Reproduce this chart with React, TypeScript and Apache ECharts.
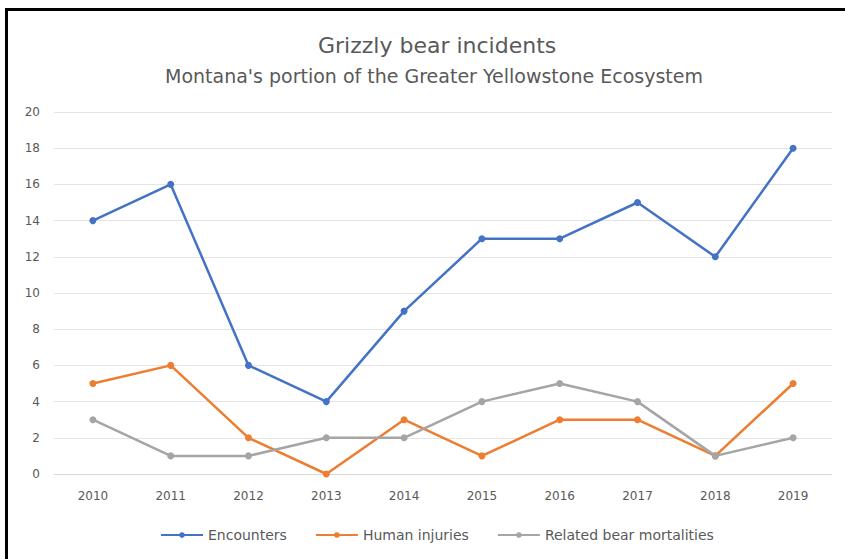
import React, { useEffect, useRef } from "react";
import * as echarts from "echarts";

const years = ["2010", "2011", "2012", "2013", "2014", "2015", "2016", "2017", "2018", "2019"];
const encounters = [14, 16, 6, 4, 9, 13, 13, 15, 12, 18];
const humanInjuries = [5, 6, 2, 0, 3, 1, 3, 3, 1, 5];
const bearMortalities = [3, 1, 1, 2, 2, 4, 5, 4, 1, 2];

export default function App() {
  const ref = useRef<HTMLDivElement>(null);
  useEffect(() => {
    const chart = echarts.init(ref.current!, null, { renderer: "svg" });
    const font = "'DejaVu Sans', 'Noto Sans', sans-serif";
    const mk = (name: string, data: number[], color: string) => ({
      name,
      type: "line",
      data,
      symbol: "circle",
      symbolSize: 7,
      lineStyle: { width: 2.5, color },
      itemStyle: { color },
    });
    chart.setOption({
      animation: false,
      backgroundColor: "#ffffff",
      color: ["#4472C4", "#ED7D31", "#A5A5A5"],
      title: [
        {
          text: "Grizzly bear incidents",
          left: 313,
          top: 29,
          textStyle: { fontFamily: font, fontSize: 22, fontWeight: "normal", color: "#595959" },
        },
        {
          text: "Montana's portion of the Greater Yellowstone Ecosystem",
          left: 160,
          top: 61,
          textStyle: { fontFamily: font, fontSize: 19, fontWeight: "normal", color: "#595959" },
        },
      ],
      legend: {
        bottom: 12,
        left: 155,
        itemWidth: 42,
        itemHeight: 7,
        itemGap: 28,
        textStyle: { fontFamily: font, fontSize: 14, color: "#595959" },
        data: ["Encounters", "Human injuries", "Related bear mortalities"],
      },
      grid: { left: 54, right: 13, top: 112, bottom: 85 },
      xAxis: {
        type: "category",
        data: years,
        axisLine: { lineStyle: { color: "#D9D9D9" } },
        axisTick: { show: false },
        axisLabel: { fontFamily: font, fontSize: 12, color: "#595959", margin: 16 },
      },
      yAxis: {
        type: "value",
        min: 0,
        max: 20,
        interval: 2,
        axisLine: { show: false },
        axisTick: { show: false },
        axisLabel: { fontFamily: font, fontSize: 12, color: "#595959", margin: 14 },
        splitLine: { lineStyle: { color: "#E4E4E4", width: 1 } },
      },
      graphic: [
        { type: "rect", shape: { x: 5, y: 8, width: 840, height: 3 }, style: { fill: "#000" } },
        { type: "rect", shape: { x: 5, y: 8, width: 3, height: 551 }, style: { fill: "#000" } },
      ],
      series: [
        mk("Encounters", encounters, "#4472C4"),
        mk("Human injuries", humanInjuries, "#ED7D31"),
        mk("Related bear mortalities", bearMortalities, "#A5A5A5"),
      ],
    });
    return () => chart.dispose();
  }, []);
  return (
    <div
      ref={ref}
      style={{ position: "fixed", left: 0, top: 0, width: 845, height: 559 }}
    />
  );
}
